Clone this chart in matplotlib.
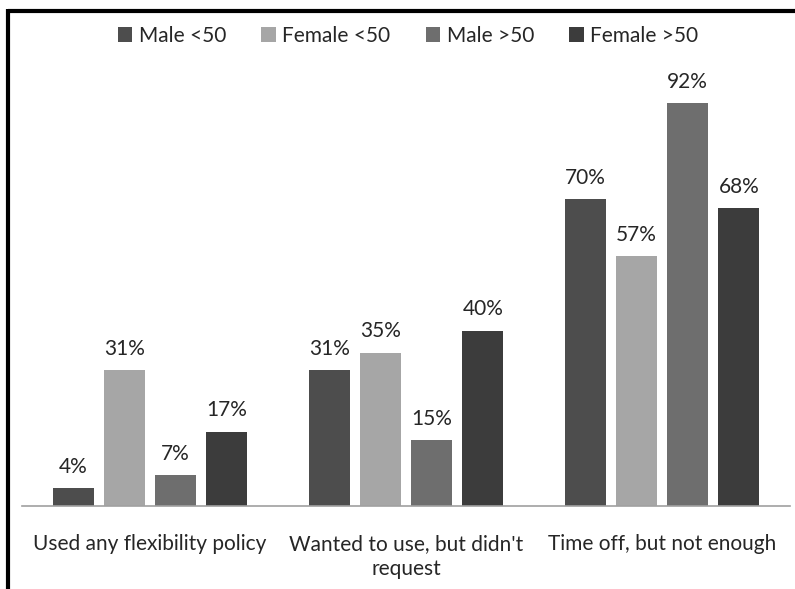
import matplotlib
matplotlib.use("Agg")
import matplotlib.pyplot as plt
from matplotlib.lines import Line2D
from matplotlib.patches import Patch
import numpy as np

categories = ["Used any flexibility policy", "Wanted to use, but didn't\nrequest", "Time off, but not enough"]
series_names = ["Male <50", "Female <50", "Male >50", "Female >50"]
male_under50 = [4, 31, 70]
female_under50 = [31, 35, 57]
male_over50 = [7, 15, 92]
female_over50 = [17, 40, 68]
series_values = [male_under50, female_under50, male_over50, female_over50]
colors = ["#4d4d4d", "#a6a6a6", "#6e6e6e", "#3c3c3c"]

plt.rcParams["font.family"] = ["Lato", "DejaVu Sans"]
text_color = "#262626"

W, H = 795, 589
fig = plt.figure(figsize=(W / 100, H / 100), dpi=100)
ax = fig.add_axes([22 / W, (H - 506) / H, 768 / W, 438 / H])

x = np.arange(len(categories))
offsets = [-0.3, -0.1, 0.1, 0.3]
width = 0.16
for vals, off, col in zip(series_values, offsets, colors):
    bars = ax.bar(x + off, vals, width, color=col, zorder=2)
    for b, v in zip(bars, vals):
        ax.text(b.get_x() + b.get_width() / 2, v + 2.6, f"{v}%", ha="center", va="bottom",
                fontsize=15, color=text_color)

ax.set_xlim(-0.5, 2.5)
ax.set_ylim(0, 100)
ax.set_yticks([])
ax.set_xticks(x)
ax.set_xticklabels(categories, fontsize=15, color=text_color, linespacing=1.3)
ax.tick_params(axis="x", length=0, pad=20)
for s in ["top", "right", "left"]:
    ax.spines[s].set_visible(False)
ax.spines["bottom"].set_color("#a0a0a0")
ax.spines["bottom"].set_linewidth(1.2)

handles = [Patch(facecolor=c, edgecolor="none") for c in colors]
fig.legend(handles, series_names, loc="center", bbox_to_anchor=(408 / W, 1 - 36 / H), ncol=4,
           frameon=False, fontsize=15, handlelength=0.7, handleheight=0.7,
           handletextpad=0.3, columnspacing=1.7, labelcolor=text_color)

# outer frame: top and left edges
fig.add_artist(Line2D([7.5 / W, 1.0], [1 - 10.5 / H, 1 - 10.5 / H], color="black", lw=3,
                      transform=fig.transFigure, solid_capstyle="butt"))
fig.add_artist(Line2D([7.5 / W, 7.5 / W], [0, 1 - 9 / H], color="black", lw=3,
                      transform=fig.transFigure, solid_capstyle="butt"))

fig.savefig("out.png", dpi=100)
